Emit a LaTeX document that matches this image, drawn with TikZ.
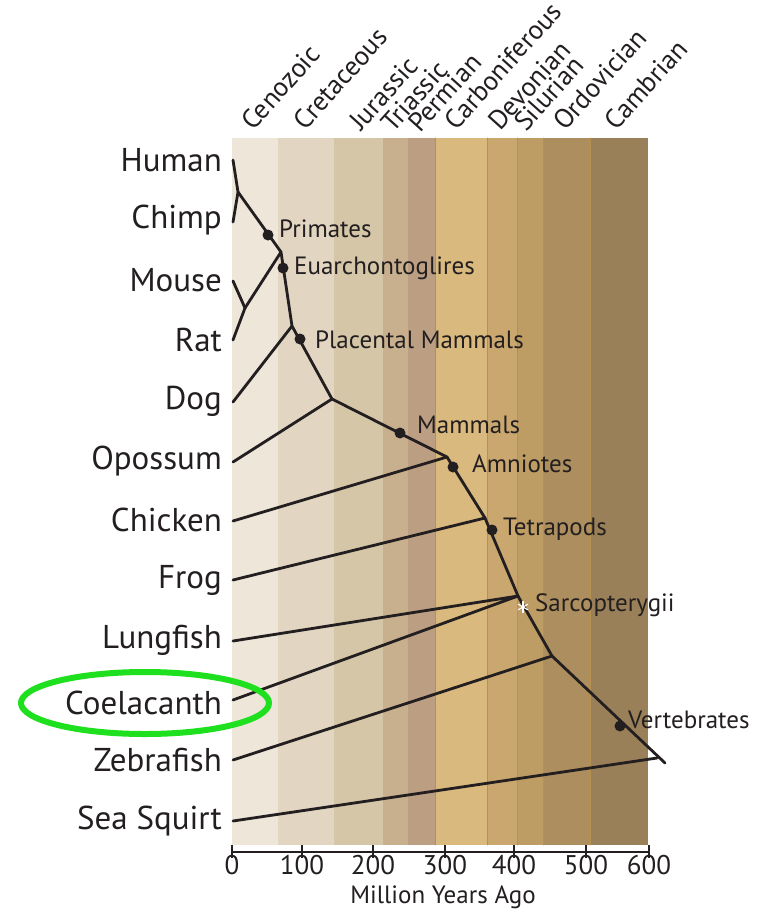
\documentclass[tikz,border=0pt]{standalone}
\usepackage{fontspec}
\setmainfont{PT Sans}
\usetikzlibrary{calc}
\definecolor{ink}{HTML}{231F20}
\definecolor{ceno}{HTML}{EDE6D9}
\definecolor{creta}{HTML}{E2D6C2}
\definecolor{jura}{HTML}{D5C6A8}
\definecolor{trias}{HTML}{C8B08E}
\definecolor{perm}{HTML}{BC9E82}
\definecolor{carbo}{HTML}{DAB97E}
\definecolor{devon}{HTML}{C9A76F}
\definecolor{silur}{HTML}{BE9D64}
\definecolor{ordo}{HTML}{AD8E5E}
\definecolor{camb}{HTML}{9A8058}
\definecolor{seam}{HTML}{B8914F}
\definecolor{ring}{HTML}{1FE01F}

\begin{document}
\begin{tikzpicture}[x=1pt,y=-1pt,text=ink,line cap=round,line join=round,
  branch/.style={ink,line width=2.8pt},
  clade/.style={font=\fontsize{25}{25}\selectfont,anchor=west,inner sep=0pt},
  taxon/.style={font=\fontsize{33}{33}\selectfont,anchor=east,inner sep=0pt},
  era/.style={font=\fontsize{27}{27}\selectfont,anchor=base west,rotate=48,inner sep=0pt},
  tick/.style={font=\fontsize{27}{27}\selectfont,anchor=north,inner sep=0pt}]
  \useasboundingbox (0,0) rectangle (764,916);
  \fill[white] (0,0) rectangle (764,916);
  % geological time bands
  \foreach \a/\b/\c in {232/278/ceno,278/334/creta,334/383/jura,383/408/trias,
      408/435/perm,435/487/carbo,487/517/devon,517/543/silur,543/590/ordo,590/648/camb}{
    \fill[\c] (\a,138) rectangle (\b,845);
  }
  \foreach \a in {435,487,517,543,590}{
    \draw[seam,line width=0.7pt] (\a,138) -- (\a,845);
  }
  % period names
  \foreach \x/\y/\n in {253/132/Cenozoic,305/132/Cretaceous,361/132/Jurassic,
      393/134/Triassic,420/134/Permian,456/132/Carboniferous,500/132/Devonian,
      526/133/Silurian,565/132/Ordovician,616/132/Cambrian}{
    \node[era] (p-\n) at (\x,\y) {\n};
  }
  % time axis
  \draw[ink,line width=2.6pt,line cap=butt] (231,852) -- (650,852);
  \foreach \x/\t in {232/0,302/100,373/200,445/300,514/400,586/500,649/600}{
    \draw[ink,line width=2.6pt,line cap=butt] (\x,845) -- (\x,858);
    \node[tick] (t\t) at (\x,855) {\t};
  }
  \node[tick,font=\fontsize{25}{25}\selectfont] (mya) at (443,886) {Million Years Ago};
  % species
  \foreach \y/\n in {160/Human,220/Chimp,280/Mouse,340/Rat,401/Dog,461/Opossum,
      520/Chicken,580/Frog,640/Lungfish,703/Coelacanth,760/Zebrafish,821/Sea Squirt}{
    \node[taxon] (\n) at (222,\y) {\n};
  }
  \foreach \y/\n in {160/human,222/chimp,281/mouse,340/rat,402/dog,462/opossum,
      521/chicken,580/frog,641/lungfish,700/coel,760/zebra,821/squirt}{
    \coordinate (l-\n) at (233,\y);
  }
  % internal nodes of the tree
  \coordinate (hc) at (238,192);
  \coordinate (mr) at (245,308);
  \coordinate (eua) at (281,252);
  \coordinate (glr) at (292,326);
  \coordinate (the) at (332,399);
  \coordinate (amn) at (447,457);
  \coordinate (tet) at (485,518);
  \coordinate (sar) at (518,596);
  \coordinate (ver) at (552,656);
  \coordinate (root) at (665,763);
  \coordinate (sq) at (657,758);
  \draw[branch] (l-human) -- (hc) -- (l-chimp);
  \draw[branch] (l-mouse) -- (mr) -- (l-rat);
  \draw[branch] (mr) -- (eua);
  \draw[branch] (l-dog) -- (glr);
  \draw[branch] (l-opossum) -- (the);
  \draw[branch] (l-chicken) -- (amn);
  \draw[branch] (l-frog) -- (tet);
  \draw[branch] (l-lungfish) -- (sar) -- (l-coel);
  \draw[branch] (l-zebra) -- (ver);
  \draw[branch] (l-squirt) -- (sq);
  \draw[branch] (hc) -- (eua) -- (glr) -- (the) -- (amn) -- (tet) -- (sar) -- (ver) -- (root);
  % clade markers
  \foreach \x/\y/\n in {268/235/pri,283/268/euadot,300/339/plc,400/433/mam,
      453/467/amndot,492/530/tetdot,620/726/verdot}{
    \fill[ink] (\x,\y) circle (5.5pt) coordinate (d-\n);
  }
  \coordinate (d-sar) at (523,607);
  \foreach \r in {90,30,-30}{
    \draw[white,line width=1.1pt] ($(d-sar)+(\r:5.5pt)$) -- ($(d-sar)+(\r+180:5.5pt)$);
  }
  \node[clade] (c-pri) at (279,229) {Primates};
  \node[clade] (c-eua) at (294,268) {Euarchontoglires};
  \node[clade] (c-plc) at (315,340) {Placental Mammals};
  \node[clade] (c-mam) at (417,425) {Mammals};
  \node[clade] (c-amn) at (472,464) {Amniotes};
  \node[clade] (c-tet) at (503,529) {Tetrapods};
  \node[clade] (c-sar) at (535,605) {Sarcopterygii};
  \node[clade] (c-ver) at (628,720) {Vertebrates};
  % highlight
  \draw[ring,line width=6pt] (145,703) ellipse [x radius=124, y radius=31];
\end{tikzpicture}
\end{document}
